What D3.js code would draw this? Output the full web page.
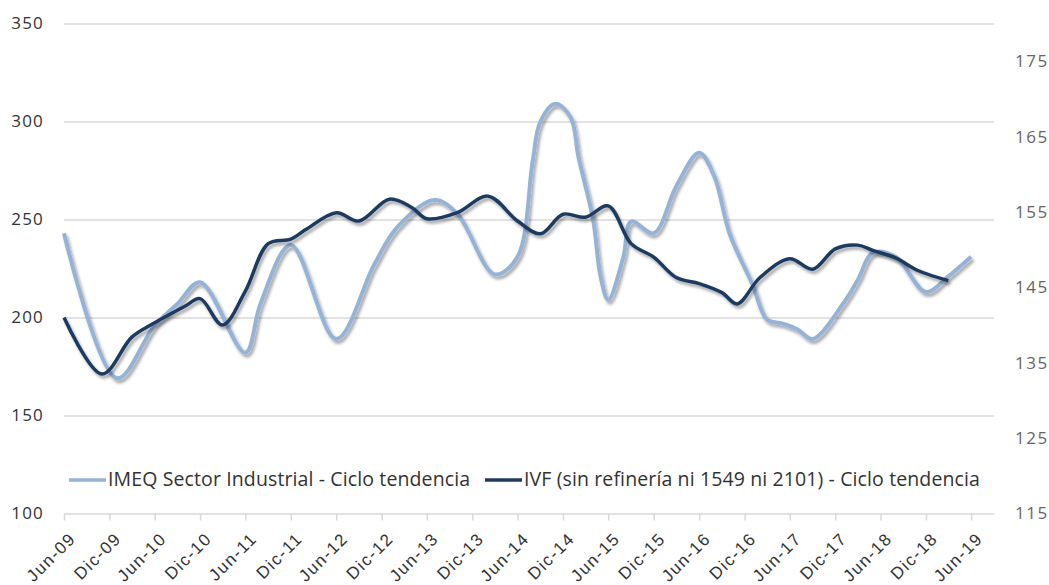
<!DOCTYPE html>
<html>
<head>
<meta charset="utf-8">
<script src="https://cdn.jsdelivr.net/npm/d3@7"></script>
<style>
  body { margin: 0; background: #fff; }
  svg { font-family: "Open Sans", Lato, sans-serif; }
  .grid line { stroke: #d9d9d9; stroke-width: 1.5; }
  .grid path { display: none; }
</style>
</head>
<body>
<svg id="chart" width="1049" height="585"></svg>
<script>
// months counted from Jun-09
const startMonth = new Date(2009, 5, 1);
const endMonth = new Date(2019, 8, 1);
const monthNames = ["Ene", "Feb", "Mar", "Abr", "May", "Jun", "Jul", "Ago", "Sep", "Oct", "Nov", "Dic"];

// IMEQ Sector Industrial - Ciclo tendencia (left axis)
const imeqMonths = [0, 7, 12, 15, 18, 24, 26, 30, 36, 41, 44, 49, 52, 57, 60, 62, 63, 65, 67, 68, 70, 71, 72, 74, 75, 78, 81, 84, 86, 88, 91, 93, 95, 97, 99, 103, 105, 107, 110, 114, 117, 120];
const imeqValues = [243, 169, 196, 207, 218, 182, 207, 237, 189, 227, 246, 260, 253, 222, 231, 280, 300, 309, 302, 282, 250, 221, 209, 231, 249, 243, 267, 284, 272, 243, 217, 199, 197, 194, 189, 207, 219, 233, 231, 213, 221, 231];

// IVF (sin refinería ni 1549 ni 2101) - Ciclo tendencia (right axis)
const ivfMonths = [0, 5, 9, 12, 16, 18, 21, 24, 27, 30, 32, 36, 39, 43, 46, 48, 52, 56, 60, 63, 66, 69, 72, 75, 78, 81, 84, 87, 89, 92, 96, 99, 102, 105, 107, 110, 113, 117];
const ivfValues = [141, 133.5, 138.4, 140.3, 142.5, 143.5, 140, 144.5, 150.8, 151.4, 152.7, 154.9, 153.8, 156.7, 155.6, 154.1, 154.9, 157.1, 153.8, 152.1, 154.7, 154.3, 155.8, 150.8, 149, 146.3, 145.5, 144.3, 142.8, 146.3, 148.8, 147.4, 150.1, 150.6, 149.9, 148.9, 147.2, 145.9];

const leftTicks = [100, 150, 200, 250, 300, 350];
const rightTicks = [115, 125, 135, 145, 155, 165, 175];
const xTickMonths = d3.range(0, 121, 6);

const seriesNames = ["IMEQ Sector Industrial - Ciclo tendencia", "IVF (sin refinería ni 1549 ni 2101) - Ciclo tendencia"];
const seriesColors = ["#95b3d7", "#1f3a60"];

const width = 1049, height = 585;
const margin = {left: 64, right: 55, top: 23.5, bottom: 71.5};

const svg = d3.select("#chart");

const scaleX = d3.scaleTime().domain([startMonth, endMonth]).range([margin.left, width - margin.right]);
const scaleY = d3.scaleLinear().domain([100, 350]).range([height - margin.bottom, margin.top]);
const scaleY2 = d3.scaleLinear().domain([115, 180]).range([height - margin.bottom, margin.top]);

const toDate = m => d3.timeMonth.offset(startMonth, m);

// drop shadow like the original
const defs = svg.append("defs");
defs.append("filter").attr("id", "shadow")
  .attr("x", "-5%").attr("y", "-5%").attr("width", "110%").attr("height", "120%")
  .append("feDropShadow")
  .attr("dx", 2).attr("dy", 3).attr("stdDeviation", 1.6)
  .attr("flood-color", "#000").attr("flood-opacity", 0.35);

// grid lines
svg.append("g")
  .attr("class", "grid")
  .attr("transform", "translate(" + margin.left + ",0)")
  .call(d3.axisLeft(scaleY).tickValues(leftTicks.slice(1)).tickSize(-(width - margin.left - margin.right)).tickFormat(""));

// left axis labels
svg.append("g")
  .selectAll("text")
  .data(leftTicks)
  .join("text")
  .attr("x", 44)
  .attr("y", d => scaleY(d))
  .attr("dy", "0.35em")
  .attr("text-anchor", "end")
  .attr("fill", "#333")
  .style("font-size", "17px")
  .style("letter-spacing", "1.2px")
  .text(d => d);

// right axis labels
svg.append("g")
  .selectAll("text")
  .data(rightTicks)
  .join("text")
  .attr("x", 1015)
  .attr("y", d => scaleY2(d))
  .attr("dy", "0.35em")
  .attr("fill", "#666")
  .style("font-size", "17px")
  .style("letter-spacing", "1.5px")
  .text(d => d);

// x axis
const xAxis = d3.axisBottom(scaleX)
  .tickValues(xTickMonths.map(toDate))
  .tickSize(7)
  .tickSizeOuter(0)
  .tickFormat(d => monthNames[d.getMonth()] + "-" + String(d.getFullYear()).slice(2));

const gx = svg.append("g")
  .attr("transform", "translate(0," + scaleY(100) + ")")
  .call(xAxis);
gx.select(".domain").attr("stroke", "#d9d9d9").attr("stroke-width", 1.5);
gx.selectAll(".tick line").attr("stroke", "#d9d9d9").attr("stroke-width", 1.5);
gx.selectAll(".tick text")
  .attr("fill", "#333")
  .style("font-size", "17px")
  .style("letter-spacing", "1.5px")
  .attr("text-anchor", "end")
  .attr("transform", "translate(8,22) rotate(-45)")
  .attr("y", 0).attr("dy", "0.35em");

// lines
const line = d3.line().curve(d3.curveCatmullRom.alpha(0.5));

svg.append("path")
  .datum(imeqMonths.map((m, i) => [scaleX(toDate(m)), scaleY(imeqValues[i])]))
  .attr("fill", "none")
  .attr("stroke", seriesColors[0])
  .attr("stroke-width", 4)
  .attr("stroke-linejoin", "round")
  .attr("filter", "url(#shadow)")
  .attr("d", line);

svg.append("path")
  .datum(ivfMonths.map((m, i) => [scaleX(toDate(m)), scaleY2(ivfValues[i])]))
  .attr("fill", "none")
  .attr("stroke", seriesColors[1])
  .attr("stroke-width", 3.5)
  .attr("stroke-linejoin", "round")
  .attr("filter", "url(#shadow)")
  .attr("d", line);

// legend
const legendX = [69, 485];
const legend = svg.append("g");
seriesNames.forEach((name, i) => {
  legend.append("line")
    .attr("x1", legendX[i]).attr("x2", legendX[i] + 37)
    .attr("y1", 480).attr("y2", 480)
    .attr("stroke", seriesColors[i]).attr("stroke-width", 3.5);
  legend.append("text")
    .attr("x", legendX[i] + 39)
    .attr("y", 486)
    .attr("fill", "#333")
    .style("font-size", "19.5px")
    .style("letter-spacing", "0.12px")
    .text(name);
});
</script>
</body>
</html>
